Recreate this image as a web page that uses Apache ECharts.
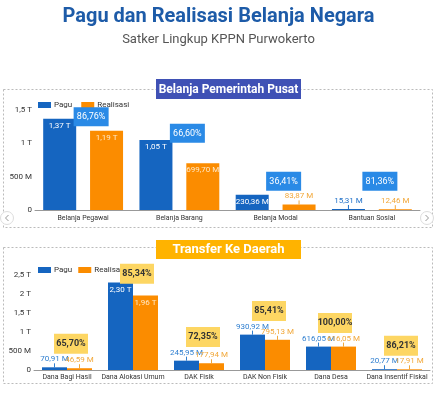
<!DOCTYPE html>
<html>
<head>
<meta charset="utf-8">
<script src="https://cdn.jsdelivr.net/npm/echarts@6/dist/echarts.min.js"></script>
<style>
  html, body { margin: 0; padding: 0; background: #fff; }
  #chart { width: 437px; height: 397px; }
</style>
</head>
<body>
<div id="chart"></div>
<script>
// nilai dalam miliar rupiah (M = miliar, T = triliun)
const catPusat = ['Belanja Pegawai', 'Belanja Barang', 'Belanja Modal', 'Bantuan Sosial'];
const paguPusat = [1370, 1050, 230.36, 15.31];
const realPusat = [1190, 699.70, 83.87, 12.46];
const pctPusat = [86.76, 66.60, 36.41, 81.36];
const tickPusat = ['0', '500 M', '1 T', '1,5 T'];

const catDaerah = ['Dana Bagi Hasil', 'Dana Alokasi Umum', 'DAK Fisik', 'DAK Non Fisik', 'Dana Desa', 'Dana Insentif Fiskal'];
const paguDaerah = [70.91, 2300, 245.95, 930.92, 616.05, 20.77];
const realDaerah = [46.59, 1960, 177.94, 795.13, 616.05, 17.91];
const pctDaerah = [65.70, 85.34, 72.35, 85.41, 100.00, 86.21];
const tickDaerah = ['0', '500 M', '1 T', '1,5 T', '2 T', '2,5 T'];

const BIRU = '#1565c0';
const ORANYE = '#fb8c00';
const FONT = 'Roboto';

function fmt(v) {
  if (v >= 1000) return (v / 1000).toFixed(2).replace('.', ',') + ' T';
  return v.toFixed(2).replace('.', ',') + ' M';
}
function fmtPct(p) {
  return p.toFixed(2).replace('.', ',') + '%';
}

// label di dalam batang kalau batangnya cukup tinggi, kalau tidak di atas + garis kecil
function barData(vals, batas, warnaDalam, warnaLuar) {
  return vals.map(v => {
    const dalam = v >= batas;
    return {
      value: v,
      label: {
        position: dalam ? 'insideTop' : 'top',
        distance: dalam ? 3 : 1,
        color: dalam ? warnaDalam : warnaLuar
      },
      labelLine: { show: !dalam, lineStyle: { color: warnaLuar, width: 1 } }
    };
  });
}

function barSeries(name, vals, xi, color, width, gap, batas, warnaDalam, warnaLuar) {
  return {
    name: name,
    type: 'bar',
    xAxisIndex: xi,
    yAxisIndex: xi,
    barWidth: width,
    barGap: gap,
    itemStyle: { color: color },
    label: {
      show: true,
      fontSize: 8,
      fontFamily: FONT,
      formatter: p => fmt(p.value)
    },
    labelLayout: p => (vals[p.dataIndex] < batas ? { dy: -3 } : {}),
    data: barData(vals, batas, warnaDalam, warnaLuar)
  };
}

const chart = echarts.init(document.getElementById('chart'));

const option = {
  backgroundColor: '#fff',
  animation: false,
  textStyle: { fontFamily: FONT },
  title: [
    {
      text: 'Pagu dan Realisasi Belanja Negara',
      left: 'center', top: 2,
      textStyle: { color: '#1d5ba8', fontSize: 20, fontWeight: 'bold', fontFamily: FONT }
    },
    {
      text: 'Satker Lingkup KPPN Purwokerto',
      left: 'center', top: 28,
      textStyle: { color: '#555', fontSize: 13, fontWeight: 'normal', fontFamily: FONT }
    }
  ],
  graphic: [
    { type: 'rect', shape: { x: 3.5, y: 89.5, width: 429, height: 138 }, style: { fill: 'none', stroke: '#bbb', lineDash: [2, 2] }, z: 0 },
    { type: 'rect', shape: { x: 3.5, y: 247.5, width: 429, height: 136 }, style: { fill: 'none', stroke: '#bbb', lineDash: [2, 2] }, z: 0 },
    { type: 'rect', shape: { x: 156, y: 79, width: 145, height: 20 }, style: { fill: '#3f51b5' }, z: 10 },
    { type: 'text', x: 228.5, y: 89.5, style: { text: 'Belanja Pemerintah Pusat', fill: '#fff', font: 'bold 12px Roboto', align: 'center', verticalAlign: 'middle' }, z: 11 },
    { type: 'rect', shape: { x: 156, y: 240, width: 145, height: 19 }, style: { fill: '#ffb300' }, z: 10 },
    { type: 'text', x: 228.5, y: 250, style: { text: 'Transfer Ke Daerah', fill: '#fff', font: 'bold 13px Roboto', align: 'center', verticalAlign: 'middle' }, z: 11 },
    { type: 'circle', shape: { cx: 7, cy: 218, r: 6.5 }, style: { fill: '#fff', stroke: '#ddd' }, z: 10 },
    { type: 'polyline', shape: { points: [[8.5, 215], [5.5, 218], [8.5, 221]] }, style: { stroke: '#999', fill: 'none', lineWidth: 1 }, z: 11 },
    { type: 'circle', shape: { cx: 427, cy: 218, r: 6.5 }, style: { fill: '#fff', stroke: '#ddd' }, z: 10 },
    { type: 'polyline', shape: { points: [[425.5, 215], [428.5, 218], [425.5, 221]] }, style: { stroke: '#999', fill: 'none', lineWidth: 1 }, z: 11 }
  ],
  legend: [
    {
      left: 33, top: 96, itemWidth: 13, itemHeight: 6, itemGap: 9,
      icon: 'rect',
      textStyle: { fontSize: 8, color: '#333', padding: [0, 0, 0, -2] },
      data: ['Pagu', 'Realisasi']
    },
    {
      left: 33, top: 261, itemWidth: 13, itemHeight: 6, itemGap: 6,
      icon: 'rect',
      textStyle: { fontSize: 8, color: '#333', padding: [0, 0, 0, -2] },
      data: ['Pagu', 'Realisasi']
    }
  ],
  grid: [
    { left: 35, right: 17, top: 110, height: 100 },
    { left: 34, right: 7, top: 275, height: 95 }
  ],
  xAxis: [
    {
      type: 'category', gridIndex: 0, data: catPusat,
      axisTick: { show: false },
      axisLine: { lineStyle: { color: '#999' } },
      axisLabel: { fontSize: 7, color: '#333', margin: 5 }
    },
    {
      type: 'category', gridIndex: 1, data: catDaerah,
      axisTick: { show: false },
      axisLine: { lineStyle: { color: '#999' } },
      axisLabel: { fontSize: 7, color: '#333', margin: 4, interval: 0 }
    }
  ],
  yAxis: [
    {
      type: 'value', gridIndex: 0, min: 0, max: 1500, interval: 500,
      splitLine: { show: false },
      axisLabel: { fontSize: 8, color: '#333', margin: 3, formatter: v => tickPusat[Math.round(v / 500)] }
    },
    {
      type: 'value', gridIndex: 1, min: 0, max: 2500, interval: 500,
      splitLine: { show: false },
      axisLabel: { fontSize: 8, color: '#333', margin: 3, formatter: v => tickDaerah[Math.round(v / 500)] }
    }
  ],
  series: [
    barSeries('Pagu', paguPusat, 0, BIRU, 33, '42%', 150, '#fff', '#1e6fc8'),
    barSeries('Realisasi', realPusat, 0, ORANYE, 33, '42%', 150, '#ffe9c7', '#f2a83a'),
    barSeries('Pagu', paguDaerah, 1, BIRU, 25, '0%', 1500, '#fff', '#2f7fd0'),
    barSeries('Realisasi', realDaerah, 1, ORANYE, 25, '0%', 1500, '#ffe9c7', '#f2a83a'),
    {
      type: 'scatter', xAxisIndex: 0, yAxisIndex: 0, z: 5, clip: false,
      symbol: 'rect', symbolSize: [35, 19], symbolOffset: [8, 0],
      itemStyle: { color: '#2a8ae6', opacity: 1 },
      label: { show: true, position: 'inside', color: '#fff', fontSize: 9, formatter: p => fmtPct(pctPusat[p.dataIndex]) },
      data: pctPusat.map((p, i) => [i, Math.min(Math.max(Math.max(paguPusat[i], realPusat[i]) + 100, 430), 1400)])
    },
    {
      type: 'scatter', xAxisIndex: 1, yAxisIndex: 1, z: 5, clip: false,
      symbol: 'rect', symbolSize: [34, 20], symbolOffset: [4, 0],
      itemStyle: { color: '#fdd663', opacity: 1 },
      label: { show: true, position: 'inside', color: '#333', fontSize: 9, fontWeight: 'bold', formatter: p => fmtPct(pctDaerah[p.dataIndex]) },
      data: pctDaerah.map((p, i) => [i, Math.min(paguDaerah[i] + 620, 2530)])
    }
  ]
};

chart.setOption(option);
</script>
</body>
</html>
